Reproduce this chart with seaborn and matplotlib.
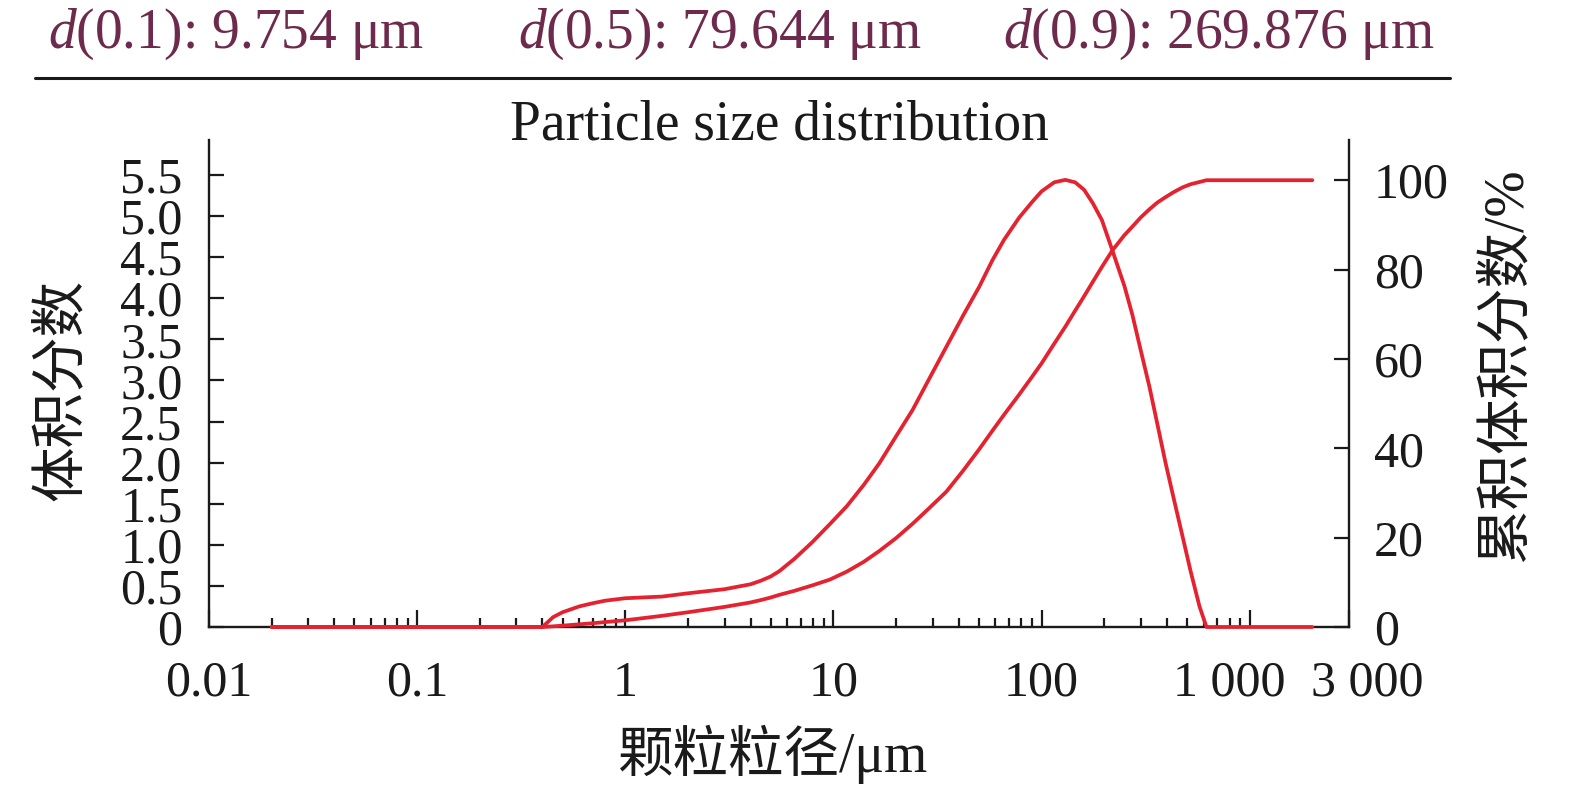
import matplotlib
matplotlib.use("Agg")
import numpy as np
import pandas as pd
import seaborn as sns
import matplotlib.pyplot as plt
from matplotlib.ticker import FixedLocator, FixedFormatter, NullFormatter
from matplotlib.lines import Line2D
from matplotlib.transforms import ScaledTranslation

# ---------------- data ----------------
size_um = [0.02, 0.1, 0.3, 0.4, 0.45, 0.5, 0.6, 0.7, 0.8, 1.0, 1.5, 2.0, 3.0,
           4.0, 4.5, 5.0, 5.5, 6.5, 7.9, 9.6, 11.6, 14, 16.6, 20, 24, 29, 34.9, 42,
           50.2, 58, 66, 78, 90, 100, 115, 130, 145, 160, 176, 195, 219, 250,
           273, 300, 330, 360, 394, 430, 476, 520, 574, 620, 700, 1000, 2000]
volume_frac = [0, 0, 0, 0, 0.12, 0.18, 0.25, 0.29, 0.32, 0.35, 0.37, 0.41, 0.46,
               0.52, 0.565, 0.615, 0.68, 0.83, 1.03, 1.25, 1.47, 1.73, 1.99, 2.32,
               2.64, 3.03, 3.41, 3.79, 4.14, 4.46, 4.71, 4.98, 5.17, 5.3, 5.41,
               5.44, 5.41, 5.32, 5.16, 4.95, 4.58, 4.15, 3.8, 3.36, 2.92, 2.47,
               2.0, 1.58, 1.1, 0.68, 0.25, 0, 0, 0, 0]
cum_frac = [0, 0, 0, 0, 0.15, 0.3, 0.6, 0.85, 1.1, 1.5, 2.5, 3.3, 4.5,
            5.5, 6.05, 6.6, 7.2, 8.1, 9.3, 10.6, 12.4, 14.6, 17.0, 19.9, 23.1,
            26.7, 30.3, 35.0, 39.8, 43.9, 47.5, 52.0, 56.0, 59.0, 63.4, 67.2,
            70.8, 74.0, 77.2, 80.6, 84.3, 87.7, 89.6, 91.7, 93.5, 95.0, 96.2,
            97.3, 98.4, 99.1, 99.6, 100, 100, 100, 100]

x_ticks = [0.01, 0.1, 1, 10, 100, 1000, 3000]
x_labels = ["0.01", "0.1", "1", "10", "100", "1 000", "3 000"]
yl_ticks = [0, 0.5, 1.0, 1.5, 2.0, 2.5, 3.0, 3.5, 4.0, 4.5, 5.0, 5.5]
yl_labels = ["0", "0.5", "1.0", "1.5", "2.0", "2.5", "3.0", "3.5", "4.0", "4.5", "5.0", "5.5"]
yr_ticks = [0, 20, 40, 60, 80, 100]
yr_labels = ["0", "20", "40", "60", "80", "100"]
d_texts = [r"$d$(0.1): 9.754 μm", r"$d$(0.5): 79.644 μm", r"$d$(0.9): 269.876 μm"]

df = pd.DataFrame({"size": size_um, "freq": volume_frac, "cum": cum_frac})

# ---------------- style ----------------
sns.set_theme(style="white")
plt.rcParams["font.family"] = ["Liberation Serif", "Noto Sans CJK SC", "DejaVu Sans"]
plt.rcParams["mathtext.fontset"] = "custom"
plt.rcParams["mathtext.rm"] = "Liberation Serif"
plt.rcParams["mathtext.it"] = "Liberation Serif:italic"

RED = "#e5222f"
INK = "#1a1a1a"
PURPLE = "#6e2a4c"
W, H = 1575, 791

fig = plt.figure(figsize=(W / 100, H / 100), dpi=100)
ax = fig.add_axes([209 / W, 1 - 627 / H, (1349 - 209) / W, (627 - 140) / H])
ax.set_xscale("log")
ax2 = ax.twinx()

sns.lineplot(data=df, x="size", y="freq", ax=ax, color=RED, lw=2.7,
             clip_on=False, zorder=5, estimator=None, sort=False)
sns.lineplot(data=df, x="size", y="cum", ax=ax2, color=RED, lw=2.7,
             clip_on=False, zorder=5, estimator=None, sort=False)

ax.set_xlim(0.01, 3000)
ax.set_ylim(0, 5.925)
ax2.set_ylim(0, 109.0)

# spines
for a in (ax, ax2):
    for s in a.spines.values():
        s.set_color(INK)
        s.set_linewidth(1.7)
ax.spines["top"].set_visible(False)
ax.spines["right"].set_visible(False)
ax2.spines["top"].set_visible(False)
ax2.spines["left"].set_visible(False)
ax2.spines["bottom"].set_visible(False)

# ticks
ax.xaxis.set_major_locator(FixedLocator(x_ticks))
ax.xaxis.set_major_formatter(FixedFormatter(x_labels))
minor = [m * 10.0 ** e for e in range(-2, 3) for m in range(2, 10)]
ax.xaxis.set_minor_locator(FixedLocator(minor))
ax.xaxis.set_minor_formatter(NullFormatter())
ax.set_yticks(yl_ticks)
ax.set_yticklabels(yl_labels)
ax2.set_yticks(yr_ticks)
ax2.set_yticklabels(yr_labels)

ax.tick_params(axis="x", which="major", direction="in", length=12, width=1.6,
               color=INK, labelsize=36, labelcolor=INK, pad=24, bottom=True, top=False)
ax.tick_params(axis="x", which="minor", direction="in", length=6.5, width=1.6,
               color=INK, bottom=True, top=False)
ax.tick_params(axis="y", direction="in", length=10.5, width=1.6, color=INK,
               labelsize=36, labelcolor=INK, pad=19, left=True, right=False)
ax2.tick_params(axis="y", direction="in", length=10.5, width=1.6, color=INK,
                labelsize=36, labelcolor=INK, pad=18, right=True, left=False)
ax2.tick_params(axis="x", bottom=False, top=False, labelbottom=False)

# nudge the two crowded labels at the right end apart (as in the reference)
fig.canvas.draw()
shifts = {"1 000": -20, "3 000": 18}
for lab in ax.get_xticklabels():
    dx = shifts.get(lab.get_text())
    if dx:
        lab.set_transform(lab.get_transform() + ScaledTranslation(dx / 100, 0, fig.dpi_scale_trans))

# labels
ax.set_xlabel("颗粒粒径/μm", fontsize=40, color=INK)
ax.xaxis.set_label_coords(0.495, -0.2)
ax.set_ylabel("体积分数", fontsize=40, color=INK)
ax.yaxis.set_label_coords(-0.106, 0.487)
ax2.set_ylabel("累积体积分数/%", fontsize=40, color=INK)
ax2.yaxis.set_label_coords(1.115, 0.538)
ax.set_title("Particle size distribution", fontsize=40, color=INK, y=1.0, pad=0)

# header
for txt, xp in zip(d_texts, [48, 518, 1003]):
    fig.text(xp / W, 1 - 48 / H, txt, color=PURPLE, fontsize=40, va="baseline", ha="left")
fig.add_artist(Line2D([35 / W, 1450 / W], [1 - 78 / H, 1 - 78 / H], color=INK,
                      lw=2.2, transform=fig.transFigure))

fig.savefig("out.png", dpi=100)
